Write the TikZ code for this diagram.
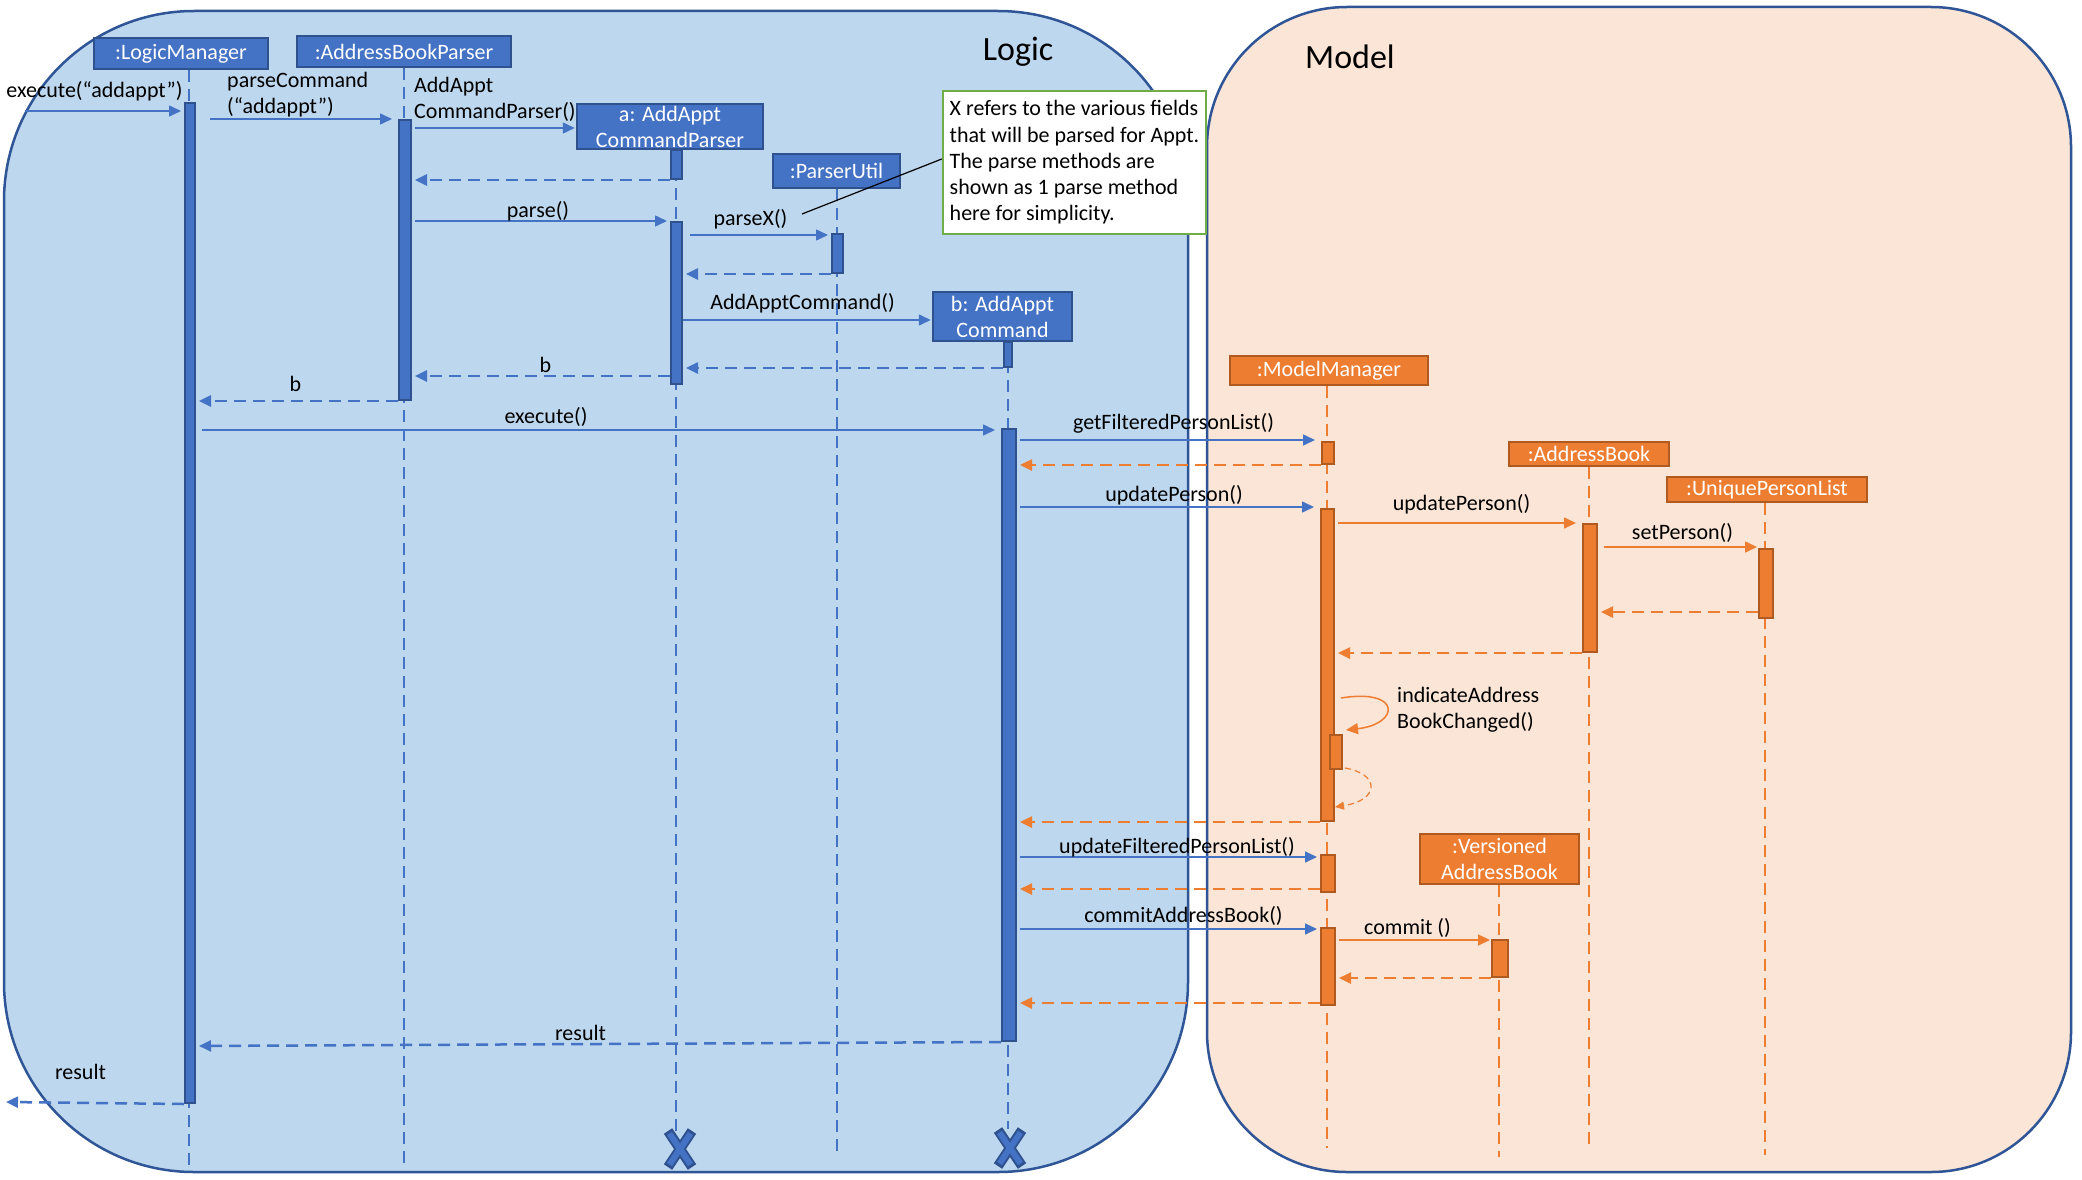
\documentclass[tikz,border=0pt]{standalone}
\usepackage{fontspec}
\setmainfont{Carlito}
\usetikzlibrary{arrows.meta,calc}
\definecolor{logicfill}{HTML}{BDD7EE}
\definecolor{modelfill}{HTML}{FBE5D6}
\definecolor{contborder}{HTML}{2F5597}
\definecolor{bluefill}{HTML}{4472C4}
\definecolor{blueborder}{HTML}{2F528F}
\definecolor{orangefill}{HTML}{ED7D31}
\definecolor{orangeborder}{HTML}{AE5A21}
\definecolor{notegreen}{HTML}{70AD47}
\tikzset{
 lbl/.style={inner sep=0pt, font=\fontsize{22}{26}\selectfont, text=black},
 ttl/.style={inner sep=0pt, font=\fontsize{34}{40}\selectfont, text=black},
 objbox/.style={rectangle, inner sep=0pt, text=white, align=center, font=\fontsize{22}{26}\selectfont, line width=2.5pt},
 bobj/.style={objbox, fill=bluefill, draw=blueborder},
 oobj/.style={objbox, fill=orangefill, draw=orangeborder},
 actbar/.style={rectangle, inner sep=0pt, line width=2pt, anchor=north west},
 bbar/.style={actbar, fill=bluefill, draw=blueborder},
 obar/.style={actbar, fill=orangefill, draw=orangeborder},
 blife/.style={draw=bluefill, line width=2pt, dash pattern=on 12pt off 7pt},
 olife/.style={draw=orangefill, line width=2pt, dash pattern=on 12pt off 7pt},
 tiptri/.style={-{Triangle[length=12pt,width=11pt]}},
 bcall/.style={tiptri, draw=bluefill, line width=1.5pt, shorten >=3pt, shorten <=3pt},
 ocall/.style={tiptri, draw=orangefill, line width=1.5pt, shorten >=3pt, shorten <=3pt},
 bret/.style={tiptri, draw=bluefill, line width=2.5pt, dash pattern=on 12pt off 7pt, shorten >=3pt},
 oret/.style={tiptri, draw=orangefill, line width=2.5pt, dash pattern=on 12pt off 7pt, shorten >=3pt},
 container/.style={rectangle, line width=2.5pt, draw=contborder, inner sep=0pt},
}
\begin{document}
\begin{tikzpicture}[x=1pt,y=-1pt]
\fill[white] (0,0) rectangle (2082,1180);
\useasboundingbox (0,0) rectangle (2082,1180);

% containers
\node[container, fill=logicfill, rounded corners=190pt, minimum width=1184pt, minimum height=1161pt] (logic) at (596,591.5) {};
\node[container, fill=modelfill, rounded corners=140pt, minimum width=864pt, minimum height=1165pt] (model) at (1639,589.5) {};
\node[ttl] (tlogic) at (1018,52) {Logic};
\node[ttl, anchor=west] (tmodel) at (1305,57) {Model};

% lifeline ends
\coordinate (lmE) at (189,1167);
\coordinate (abpE) at (404,1167);
\coordinate (acpE) at (676,1131);
\coordinate (puE) at (837,1153);
\coordinate (bcE) at (1008,1129);
\coordinate (mmE) at (1327,1148);
\coordinate (abE) at (1589,1150);
\coordinate (uplE) at (1765,1155);
\coordinate (vabE) at (1499,1157);

% object boxes
\node[bobj, minimum width=174pt, minimum height=31pt] (lm) at (181,53.5) {:LogicManager};
\node[bobj, minimum width=214pt, minimum height=31pt] (abp) at (404,51.5) {:AddressBookParser};
\node[bobj, minimum width=186pt, minimum height=45pt] (acp) at (670,126.5) {a: AddAppt\\CommandParser};
\node[bobj, minimum width=127pt, minimum height=34pt] (pu) at (836.5,171) {:ParserUtil};
\node[bobj, minimum width=139pt, minimum height=49pt] (bc) at (1002.5,316.5) {b: AddAppt\\Command};
\node[oobj, minimum width=198pt, minimum height=29pt] (mm) at (1329,370.5) {:ModelManager};
\node[oobj, minimum width=160pt, minimum height=24pt] (ab) at (1589,454) {:AddressBook};
\node[oobj, minimum width=200pt, minimum height=25pt] (upl) at (1767,489.5) {:UniquePersonList};
\node[oobj, minimum width=159pt, minimum height=50pt] (vab) at (1499.5,859) {:Versioned\\AddressBook};

% lifelines
\draw[blife] (lm.south -| lmE) -- (lmE);
\draw[blife] (abp.south -| abpE) -- (abpE);
\draw[blife] (acp.south -| acpE) -- (acpE);
\draw[blife] (pu.south -| puE) -- (puE);
\draw[blife] (bc.south -| bcE) -- (bcE);
\draw[olife] (mm.south -| mmE) -- (mmE);
\draw[olife] (ab.south -| abE) -- (abE);
\draw[olife] (upl.south -| uplE) -- (uplE);
\draw[olife] (vab.south -| vabE) -- (vabE);

% activation bars
\node[bbar, minimum width=10pt, minimum height=1000pt] (lmb) at (184,102) {};
\node[bbar, minimum width=12pt, minimum height=280pt] (abpb) at (398,119) {};
\node[bbar, minimum width=11pt, minimum height=29pt] (acpb1) at (670,149) {};
\node[bbar, minimum width=11pt, minimum height=162pt] (acpb2) at (670,221) {};
\node[bbar, minimum width=11pt, minimum height=39pt] (pub) at (831,233) {};
\node[bbar, minimum width=8pt, minimum height=25pt] (bcb1) at (1003,341) {};
\node[bbar, minimum width=14pt, minimum height=612pt] (bcb2) at (1001,428) {};
\node[obar, minimum width=12pt, minimum height=22pt] (mmb1) at (1321,441) {};
\node[obar, minimum width=13pt, minimum height=312pt] (mmb2) at (1320,508) {};
\node[obar, minimum width=12pt, minimum height=34pt] (mmb3) at (1329,734) {};
\node[obar, minimum width=14pt, minimum height=37pt] (mmb4) at (1320,854) {};
\node[obar, minimum width=14pt, minimum height=77pt] (mmb5) at (1320,927) {};
\node[obar, minimum width=14pt, minimum height=128pt] (abb) at (1582,523) {};
\node[obar, minimum width=14pt, minimum height=69pt] (uplb) at (1758,548) {};
\node[obar, minimum width=16pt, minimum height=37pt] (vabb) at (1491,939) {};

% messages
\coordinate (in1) at (25,111);
\draw[bcall, shorten <=0pt] (in1) -- (lmb.west |- in1);
\draw[bcall, shorten <=14pt, shorten >=6pt] (lmb.east |- 0,119) -- (abpb.west |- 0,119);
\draw[bcall, shorten >=1pt] (abpb.east |- 0,128) -- (acp.west |- 0,128);
\draw[bret] (acpb1.south west) -- (abpb.east |- acpb1.south west);
\draw[bcall] (abpb.east |- 0,221) -- (acpb2.west |- 0,221);
\draw[bcall, shorten <=7pt] (acpb2.east |- 0,235) -- (pub.west |- 0,235);
\draw[bret] (pub.south west) -- (acpb2.east |- pub.south west);
\draw[bcall, shorten <=0pt, shorten >=1pt] (acpb2.east |- 0,320) -- (bc.west |- 0,320);
\draw[bret] (bcb1.south west) -- (acpb2.east |- bcb1.south west);
\draw[bret] (acpb2.west |- 0,376) -- (abpb.east |- 0,376);
\draw[bret] (abpb.south west) -- (lmb.east |- abpb.south west);
\draw[bcall, shorten <=6pt, shorten >=6pt] (lmb.east |- 0,430) -- (bcb2.west |- 0,430);
\draw[bcall, shorten >=6pt] (bcb2.east |- 0,440) -- (mmb1.west |- 0,440);
\draw[oret] (mmb1.south west) -- (bcb2.east |- mmb1.south west);
\draw[bcall, shorten >=6pt] (bcb2.east |- 0,507) -- (mmb2.west |- 0,507);
\draw[ocall, shorten >=6pt] (mmb2.east |- 0,523) -- (abb.west |- 0,523);
\draw[ocall, shorten <=6pt, shorten >=1pt] (abb.east |- 0,547) -- (uplb.west |- 0,547);
\draw[oret] (uplb.west |- 0,612) -- (abb.east |- 0,612);
\draw[oret] (abb.south west) -- (mmb2.east |- abb.south west);
\coordinate (sfrom) at (1341,698);
\coordinate (sto) at (1346,730);
\draw[ocall, shorten <=0pt, shorten >=0pt] (sfrom) .. controls (1402,688) and (1400,724) .. (sto);
\coordinate (rfrom) at (1345,768);
\coordinate (rto) at (1335,807);
\draw[-{Triangle[length=9pt,width=8pt]}, draw=orangefill, line width=1.2pt, dash pattern=on 6pt off 4pt] (rfrom) .. controls (1380,774) and (1380,800) .. (rto);
\draw[oret] (mmb2.south west) -- (bcb2.east |- mmb2.south west);
\draw[bcall] (bcb2.east |- 0,857) -- (mmb4.west |- 0,857);
\draw[oret] (mmb4.west |- 0,889) -- (bcb2.east |- 0,889);
\draw[bcall] (bcb2.east |- 0,929) -- (mmb5.west |- 0,929);
\draw[ocall, shorten >=1pt] (mmb5.east |- 0,940) -- (vabb.west |- 0,940);
\draw[oret] (vabb.south west) -- (mmb5.east |- vabb.south west);
\draw[oret] (mmb5.west |- 0,1003) -- (bcb2.east |- 0,1003);
\draw[bret] (bcb2.south west) -- (lmb.east |- 0,1046);
\coordinate (out1) at (6,1102);
\draw[bret, shorten >=0pt] (lmb.south west) -- (out1);

% message labels
\node[lbl] (l1) at (94.5,91) {execute(“addappt”)};
\node[lbl, anchor=west, align=left] (l2) at (227,95) {parseCommand\\(“addappt”)};
\node[lbl, anchor=west, align=left] (l3) at (414,99) {AddAppt\\CommandParser()};
\node[lbl] (l4) at (538,211) {parse()};
\node[lbl] (l5) at (750.5,219) {parseX()};
\node[lbl] (l6) at (802.5,303) {AddApptCommand()};
\node[lbl] (l7) at (545.5,365) {b};
\node[lbl] (l8) at (295.5,384) {b};
\node[lbl] (l9) at (546,417) {execute()};
\node[lbl] (l10) at (1173.5,423) {getFilteredPersonList()};
\node[lbl] (l11) at (1174,495.5) {updatePerson()};
\node[lbl] (l12) at (1461.5,504) {updatePerson()};
\node[lbl] (l13) at (1682.5,533) {setPerson()};
\node[lbl, anchor=west, align=left] (l14) at (1397,709.5) {indicateAddress\\BookChanged()};
\node[lbl] (l15) at (1177,847) {updateFilteredPersonList()};
\node[lbl] (l16) at (1183.5,916) {commitAddressBook()};
\node[lbl] (l17) at (1407.5,928) {commit ()};
\node[lbl] (l18) at (580.5,1033) {result};
\node[lbl] (l19) at (80.5,1072) {result};

% destruction marks
\coordinate (xa) at (680,1149);
\coordinate (xb) at (1010,1148);
\foreach \c in {xa,xb}{
  \draw[line width=10pt, blueborder] ($(\c)+(-12,-18)$) -- ($(\c)+(12,18)$) ($(\c)+(12,-18)$) -- ($(\c)+(-12,18)$);
  \draw[line width=6pt, bluefill] ($(\c)+(-10.5,-15.5)$) -- ($(\c)+(10.5,15.5)$) ($(\c)+(10.5,-15.5)$) -- ($(\c)+(-10.5,15.5)$);
}

% note
\node[draw=notegreen, fill=white, line width=2.5pt, minimum width=263pt, minimum height=143pt, align=left, inner sep=0pt, font=\fontsize{22}{26.3}\selectfont] (note) at (1074.5,162.5) {X refers to the various fields\\that will be parsed for Appt.\\The parse methods are\\shown as 1 parse method\\here for simplicity.};
\coordinate (ntip) at (802,214);
\draw[line width=1.2pt, black] (note.west |- 0,159) -- (ntip);
\end{tikzpicture}
\end{document}
